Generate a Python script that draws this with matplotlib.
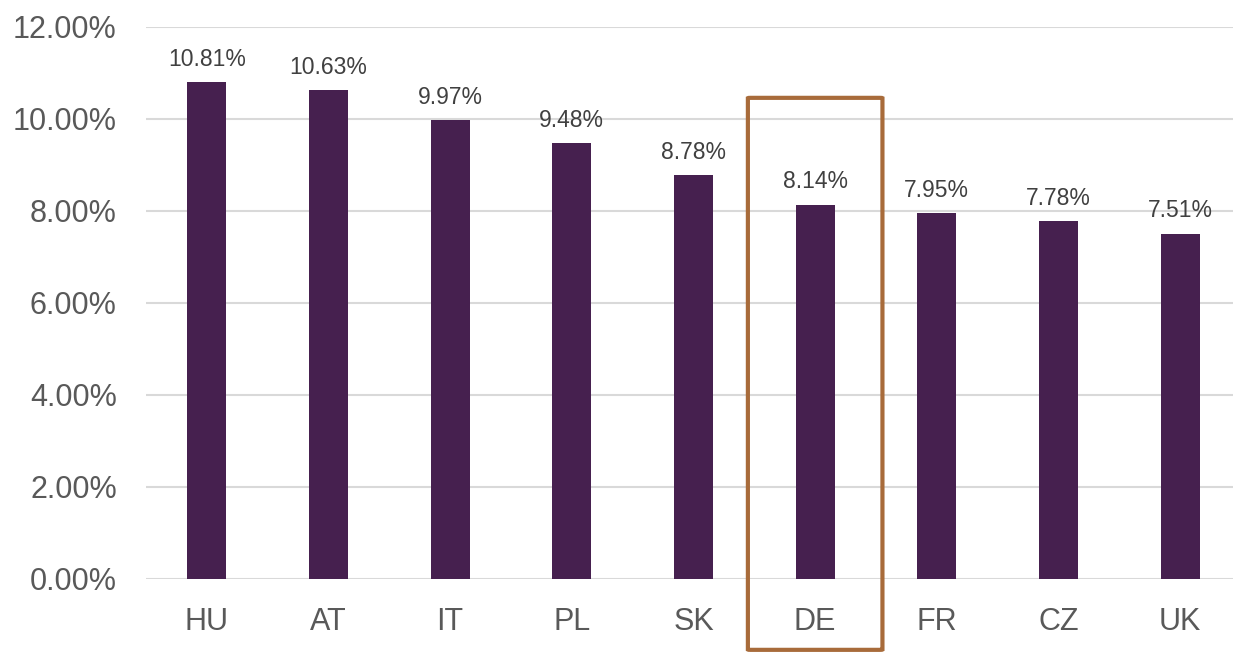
import matplotlib.pyplot as plt
from matplotlib.patches import FancyBboxPatch

# Data
countries = ['HU', 'AT', 'IT', 'PL', 'SK', 'DE', 'FR', 'CZ', 'UK']
values = [10.81, 10.63, 9.97, 9.48, 8.78, 8.14, 7.95, 7.78, 7.51]
highlight = 'DE'

plt.rcParams['font.family'] = ['Liberation Sans', 'DejaVu Sans']

fig = plt.figure(figsize=(12.33, 6.52), dpi=100)
ax = fig.add_axes([146 / 1233, 73 / 652, 1095 / 1233, 552 / 652])

x = list(range(len(countries)))
bars = ax.bar(x, values, width=0.32, color='#46204F', zorder=3)

for xi, v in zip(x, values):
    ax.annotate(f'{v:.2f}%', (xi, v), xytext=(0, 8), textcoords='offset points',
                ha='center', va='bottom', fontsize=16.5, color='#404040')

ax.set_xlim(-0.5, len(countries) - 0.5)
ax.set_ylim(0, 12)
ax.set_yticks(range(0, 13, 2))
ax.set_yticklabels([f'{t:.2f}%' for t in range(0, 13, 2)])
ax.set_xticks(x)
ax.set_xticklabels(countries)
ax.tick_params(axis='y', length=0, pad=21, labelsize=22, labelcolor='#595959')
ax.tick_params(axis='x', length=0, pad=20, labelsize=22, labelcolor='#595959')
ax.yaxis.grid(True, color='#D9D9D9', linewidth=1.5, zorder=0)
ax.set_axisbelow(True)
for s in ax.spines.values():
    s.set_visible(False)

# highlight box around DE
i = countries.index(highlight)
box = FancyBboxPatch((i - 0.553, -1.54), 1.106, 12.0,
                     boxstyle='round,pad=0,rounding_size=0.02',
                     fill=False, edgecolor='#A86B3A', linewidth=3,
                     clip_on=False, zorder=4, mutation_aspect=46 / 121.7)
ax.add_patch(box)

fig.savefig('out.png', dpi=100)
